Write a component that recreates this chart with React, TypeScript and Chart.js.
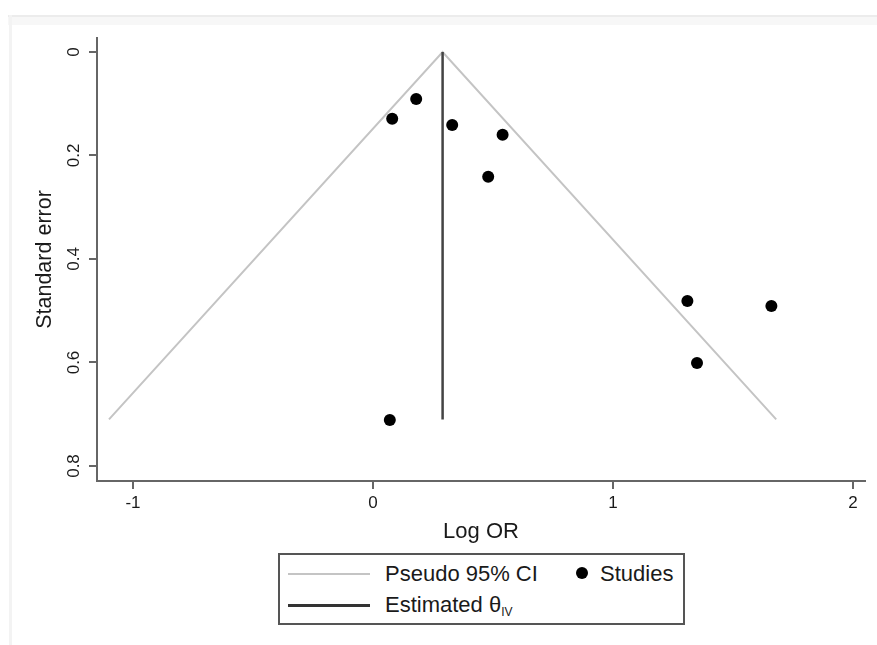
import React, { useEffect, useRef } from "react";
import { Chart, registerables } from "chart.js";

Chart.register(...registerables);

// Data
const studyLogOR = [0.08, 0.18, 0.33, 0.54, 0.48, 1.31, 1.66, 1.35, 0.07];
const studySE = [0.129, 0.091, 0.141, 0.16, 0.241, 0.481, 0.491, 0.601, 0.711];
const thetaIV = 0.29;
const maxSE = 0.71;
const ciLeftX = -1.1;
const ciRightX = 1.68;
const xTicks = [-1, 0, 1, 2];
const yTicks = [0, 0.2, 0.4, 0.6, 0.8];
const xLabel = "Log OR";
const yLabel = "Standard error";

const FONT = "'Liberation Sans', Arial, sans-serif";

export default function App() {
  const ref = useRef<HTMLCanvasElement | null>(null);

  useEffect(() => {
    if (!ref.current) return;
    const chart = new Chart(ref.current, {
      type: "scatter",
      data: {
        datasets: [
          {
            label: "Pseudo 95% CI",
            data: [
              { x: ciLeftX, y: maxSE },
              { x: thetaIV, y: 0 },
              { x: ciRightX, y: maxSE },
            ],
            showLine: true,
            borderColor: "#c4c4c4",
            borderWidth: 2,
            pointRadius: 0,
            order: 3,
          },
          {
            label: "Estimated θIV",
            data: [
              { x: thetaIV, y: 0 },
              { x: thetaIV, y: maxSE },
            ],
            showLine: true,
            borderColor: "#444444",
            borderWidth: 2.5,
            pointRadius: 0,
            order: 2,
          },
          {
            label: "Studies",
            data: studyLogOR.map((x, i) => ({ x, y: studySE[i] })),
            backgroundColor: "#000000",
            borderColor: "#000000",
            pointRadius: 6,
            borderWidth: 0,
            showLine: false,
            order: 1,
          },
        ],
      },
      options: {
        responsive: false,
        animation: false,
        layout: { padding: { top: 38, right: 12, bottom: 94, left: 0 } },
        plugins: { legend: { display: false }, tooltip: { enabled: false } },
        scales: {
          x: {
            type: "linear",
            min: -1.15,
            max: 2.05,
            afterBuildTicks: (s: any) => {
              s.ticks = xTicks.map((v) => ({ value: v }));
            },
            afterFit: (s: any) => {
              s.height = 70;
            },
            border: { display: true, color: "#666666", width: 2 },
            grid: {
              display: true,
              drawOnChartArea: false,
              drawTicks: true,
              tickLength: 8,
              color: "#666666",
              lineWidth: 2,
            },
            ticks: {
              padding: 4,
              color: "#1a1a1a",
              font: { family: FONT, size: 17 },
              callback: (v: any) => String(v),
            },
            title: {
              display: true,
              text: xLabel,
              color: "#1a1a1a",
              font: { family: FONT, size: 22 },
              padding: { top: 0, bottom: 6 },
            },
          },
          y: {
            type: "linear",
            reverse: true,
            min: -0.027,
            max: 0.829,
            afterBuildTicks: (s: any) => {
              s.ticks = yTicks.map((v) => ({ value: v }));
            },
            afterFit: (s: any) => {
              s.width = 97;
            },
            border: { display: true, color: "#666666", width: 2 },
            grid: {
              display: true,
              drawOnChartArea: false,
              drawTicks: true,
              tickLength: 8,
              color: "#666666",
              lineWidth: 2,
            },
            ticks: {
              padding: 3,
              minRotation: 90,
              maxRotation: 90,
              crossAlign: "center",
              color: "#1a1a1a",
              font: { family: FONT, size: 17 },
              callback: (v: any) => String(v),
            },
            title: {
              display: true,
              text: yLabel,
              color: "#1a1a1a",
              font: { family: FONT, size: 21.5 },
              padding: { top: 32, bottom: 0 },
            },
          },
        },
      },
    });
    return () => chart.destroy();
  }, []);

  const legendText: React.CSSProperties = {
    position: "absolute",
    fontFamily: FONT,
    fontSize: 22,
    color: "#1a1a1a",
    lineHeight: "24px",
    whiteSpace: "nowrap",
  };

  return (
    <div
      style={{
        position: "fixed",
        left: 0,
        top: 0,
        width: 877,
        height: 645,
        background: "#fff",
        overflow: "hidden",
      }}
    >
      <div
        style={{
          position: "absolute",
          left: 8,
          top: 15,
          width: 900,
          height: 8,
          background: "#f7f7f7",
          borderTop: "2px solid #ececec",
        }}
      />
      <div
        style={{
          position: "absolute",
          left: 9,
          top: 15,
          width: 3,
          height: 640,
          background: "#f3f3f3",
        }}
      />
      <canvas
        ref={ref}
        width={877}
        height={645}
        style={{ position: "absolute", left: 0, top: 0, display: "block" }}
      />
      <div
        style={{
          position: "absolute",
          left: 278,
          top: 553,
          width: 403,
          height: 68,
          border: "2px solid #555",
          background: "#fff",
        }}
      >
        <div
          style={{
            position: "absolute",
            left: 8,
            top: 18,
            width: 82,
            height: 2,
            background: "#c4c4c4",
          }}
        />
        <div style={{ ...legendText, left: 105, top: 7 }}>Pseudo 95% CI</div>
        <div
          style={{
            position: "absolute",
            left: 296,
            top: 12,
            width: 12,
            height: 12,
            borderRadius: 6,
            background: "#000",
          }}
        />
        <div style={{ ...legendText, left: 320, top: 7 }}>Studies</div>
        <div
          style={{
            position: "absolute",
            left: 8,
            top: 49,
            width: 82,
            height: 3,
            background: "#333",
          }}
        />
        <div style={{ ...legendText, left: 105, top: 38 }}>
          Estimated θ<span style={{ fontSize: 12, verticalAlign: -4 }}>IV</span>
        </div>
      </div>
    </div>
  );
}
